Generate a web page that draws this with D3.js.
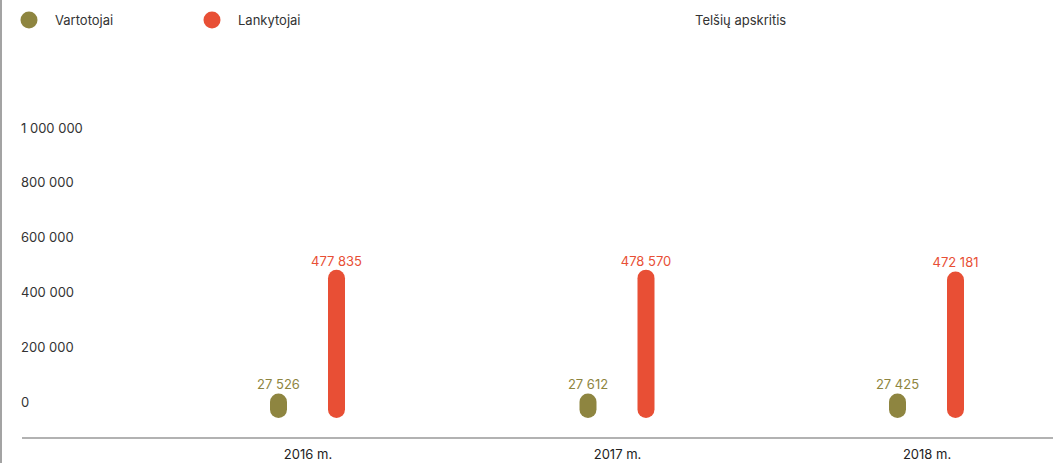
<!DOCTYPE html>
<html><head><meta charset="utf-8">
<script src="https://cdn.jsdelivr.net/npm/d3@7"></script>
<style>
html,body{margin:0;padding:0;background:#fff;}
svg{display:block;font-family:Inter, "Noto Sans", sans-serif;}
</style></head>
<body>
<svg id="c" width="1053" height="463"></svg>
<script>
const years = ["2016 m.", "2017 m.", "2018 m."];
const vartotojai = [27526, 27612, 27425];
const lankytojai = [477835, 478570, 472181];
const yTicks = [0, 200000, 400000, 600000, 800000, 1000000];
const seriesNames = ["Vartotojai", "Lankytojai"];
const colors = ["#8e8540", "#e84f35"];
const title = "Telšių apskritis";

const svg = d3.select("#c");
const W = 1053, H = 463;
const fmt = v => d3.format(",")(v).replace(/,/g, " ");

const x = d3.scalePoint().domain(years).range([307.5, 926.5]);
const y = d3.scaleLinear().domain([0, 1000000]).range([409.5, 135]);
const off = 29, bw = 17;

// left border
svg.append("line").attr("x1", 1).attr("x2", 1).attr("y1", 0).attr("y2", H)
  .attr("stroke", "#666").attr("stroke-width", 1.2);

// legend
const leg = svg.append("g");
seriesNames.forEach((n, i) => {
  const lx = [29, 212][i];
  leg.append("circle").attr("cx", lx).attr("cy", 20).attr("r", 8.5).attr("fill", colors[i]);
  leg.append("text").attr("x", lx + 26).attr("y", 25).text(n)
    .attr("font-size", 13).attr("fill", "#333");
});
svg.append("text").attr("x", 695).attr("y", 25).text(title)
  .attr("font-size", 13).attr("fill", "#333");

// y labels
svg.append("g").selectAll("text").data(yTicks).join("text")
  .attr("x", 21).attr("y", d => y(d) - 2.5)
  .attr("font-size", 13).attr("fill", "#333")
  .text(d => d === 0 ? "0" : fmt(d));

// x axis
const xa = svg.append("g").attr("transform", "translate(0,438)")
  .call(d3.axisBottom(x).tickSize(0).tickPadding(12));
xa.select(".domain").attr("d", "M22,0H1053").attr("stroke", "#666").attr("stroke-width", 1.2);
xa.selectAll("text").attr("font-size", 13).attr("fill", "#222").attr("font-family", "Inter, 'Noto Sans', sans-serif");

// bars
const series = [vartotojai, lankytojai];
series.forEach((vals, si) => {
  const dx = si === 0 ? -off : off;
  const g = svg.append("g");
  g.selectAll("line").data(vals).join("line")
    .attr("x1", (d, i) => x(years[i]) + dx).attr("x2", (d, i) => x(years[i]) + dx)
    .attr("y1", y(0)).attr("y2", d => y(d))
    .attr("stroke", colors[si]).attr("stroke-width", bw).attr("stroke-linecap", "round");
  g.selectAll("text").data(vals).join("text")
    .attr("x", (d, i) => x(years[i]) + dx).attr("y", d => y(d) - bw / 2 - 4)
    .attr("text-anchor", "middle").attr("font-size", 13).attr("fill", colors[si])
    .text(d => fmt(d));
});
</script>
</body></html>
